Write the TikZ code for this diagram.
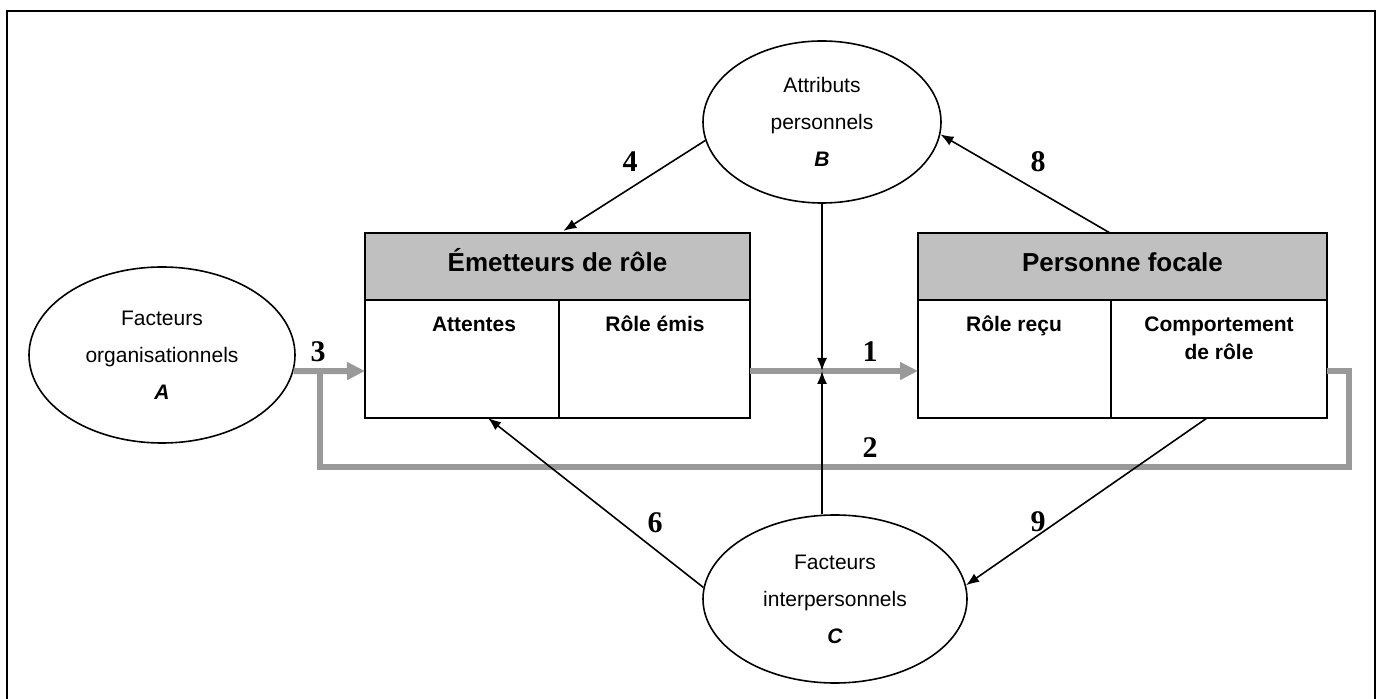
\documentclass[tikz,border=0pt]{standalone}
\usepackage{fontspec}
\setmainfont{Liberation Sans}
\newfontfamily\numfont{Liberation Serif}
\usepackage{xcolor}
\usetikzlibrary{shapes.geometric,arrows.meta}
\definecolor{headgray}{HTML}{C0C0C0}
\definecolor{flowgray}{HTML}{999999}
\tikzset{
	factor/.style={ellipse,draw,line width=0.8pt,align=center,inner sep=0pt,
		font=\fontsize{10.5}{18.5}\selectfont},
	header/.style={draw,fill=headgray,line width=1pt,inner sep=0pt,outer sep=0pt,
		text height=5.5pt,text depth=0pt,font=\bfseries\fontsize{13}{15}\selectfont},
	cell/.style={draw,line width=1pt,inner sep=0pt,outer sep=0pt},
	celltext/.style={anchor=base,align=center,font=\bfseries\fontsize{10.5}{14}\selectfont},
	flow/.style={draw=flowgray,line width=3pt,-{Triangle[length=9pt,width=8.5pt]}},
	loopline/.style={draw=flowgray,line width=3pt},
	link/.style={line width=0.8pt,-{Latex[length=6.5pt,width=5pt]}},
	num/.style={font=\numfont\bfseries\fontsize{15}{15}\selectfont}
}
\begin{document}
\begin{tikzpicture}[x=0.5pt,y=-0.5pt]
	\useasboundingbox (0,0) rectangle (1381,699);
	\draw[line width=1.2pt] (7,699)--(7,11)--(1375,11)--(1375,699);
	
	% facteurs
	\node[factor,minimum width=133pt,minimum height=88pt] (A) at (162,355)
		{Facteurs\\organisationnels\\\textbf{\textit{A}}};
	\node[factor,minimum width=119pt,minimum height=81pt] (B) at (822,122)
		{Attributs\\personnels\\\textbf{\textit{B}}};
	\node[factor,minimum width=132pt,minimum height=84pt] (C) at (835,599)
		{Facteurs\\interpersonnels\\\textbf{\textit{C}}};
	
	% boites
	\node[header,minimum width=192.5pt,minimum height=33.5pt] (EmH) at (557.5,266.5)
		{Émetteurs de rôle};
	\node[cell,minimum width=192.5pt,minimum height=59pt] (EmB) at (557.5,359) {};
	\draw[line width=1pt] ([xshift=97pt]EmB.north west)--([xshift=97pt]EmB.south west);
	\node[header,minimum width=204.5pt,minimum height=33.5pt] (PfH) at (1122.5,266.5)
		{Personne focale};
	\node[cell,minimum width=204.5pt,minimum height=59pt] (PfB) at (1122.5,359) {};
	\draw[line width=1pt] ([xshift=96.5pt]PfB.north west)--([xshift=96.5pt]PfB.south west);
	
	\node[celltext] (att) at (474,332) {Attentes};
	\node[celltext] (emis) at (655,332) {Rôle émis};
	\node[celltext] (recu) at (1014,332) {Rôle reçu};
	\node[celltext] (comp) at (1219,360) {Comportement\\de rôle};
	
	% flux gris
	\coordinate (J) at (822,371);
	\coordinate (R) at (1349,467);
	\coordinate (L) at (320,467);
	\draw[loopline] (PfB.east |- J)-|(R)--(L)--(L |- J);
	\draw[flow] (A.-7)--(EmB.west |- J);
	\draw[flow] (EmB.east |- J)--(PfB.west |- J);
	
	% liens
	\draw[link] (B.south)--(J);
	\draw[link] (C.north -| J)--(J);
	\draw[link,shorten >=2pt] (B.189)--([xshift=97.5pt]EmH.north west);
	\draw[link] ([xshift=-6.25pt]PfH.north)--(B.-6);
	\draw[link] (C.175)--([xshift=61.5pt]EmB.south west);
	\draw[link] ([xshift=144.5pt]PfB.south west)--(C.6);
	
	% numeros
	\node[num] (l1) at (870,352) {1};
	\node[num] (l2) at (870,448) {2};
	\node[num] (l3) at (318,352) {3};
	\node[num] (l4) at (630,162) {4};
	\node[num] (l6) at (655,523) {6};
	\node[num] (l8) at (1038,162) {8};
	\node[num] (l9) at (1038,522) {9};
\end{tikzpicture}
\end{document}
